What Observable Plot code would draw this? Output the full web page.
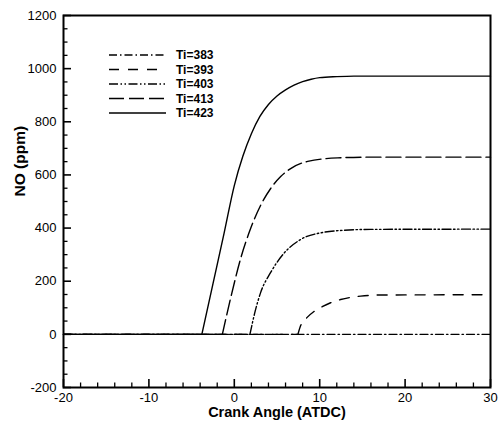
<!DOCTYPE html>
<html>
<head>
<meta charset="utf-8">
<script src="https://cdn.jsdelivr.net/npm/d3@7"></script>
<script src="https://cdn.jsdelivr.net/npm/@observablehq/plot@0.6"></script>
<style>
  html, body { margin: 0; padding: 0; background: #fff; }
  #chart { width: 501px; height: 424px; }
</style>
</head>
<body>
<div id="chart"></div>
<script>
// ---- data ----
const seriesNames = ["Ti=383", "Ti=393", "Ti=403", "Ti=413", "Ti=423"];

const angle383 = [-20, 30];
const no383    = [0, 0];

const angle393 = [-20, 7.45, 7.77, 8.47, 9.33, 10.3, 11.28, 12.45, 13.6, 14.8, 17, 29];
const no393    = [0, 0, 33, 62, 86, 104, 119, 131, 139, 144, 148, 149];

const angle403 = [-20, 1.83, 2.38, 3.09, 4.26, 5.81, 7.77, 10.46, 12.45, 15.96, 30];
const no403    = [0, 0, 79, 158, 233, 305, 357, 384, 391, 395, 396];

const angle413 = [-20, -1.4, -0.41, 0.75, 1.92, 3.09, 4.26, 5.43, 6.6, 8.59, 12.1, 15.96, 30];
const no413    = [0, 0, 139, 286, 399, 486, 549, 594, 624, 651, 664, 667, 667];

const angle423 = [-20, -3.8, -2.5, -1.2, 0, 1, 2, 3, 4, 5, 6, 7, 8, 9, 10, 12, 14, 30];
const no423    = [0, 0, 190, 380, 560, 670, 755, 820, 865, 897, 920, 938, 951, 960, 966, 970, 972, 972];

const xMajorTicks = [-20, -10, 0, 10, 20, 30];
const yMajorTicks = [-200, 0, 200, 400, 600, 800, 1000, 1200];
const xMinorTicks = d3.range(-20, 30.001, 2).filter(v => !xMajorTicks.includes(v));
const yMinorTicks = d3.range(-200, 1200.001, 50).filter(v => !yMajorTicks.includes(v));

// ---- styles ----
const dashes = {
  "Ti=383": "8,3,1.5,3",
  "Ti=393": "10,9",
  "Ti=403": "9,2.5,1.5,2.5,1.5,2.5",
  "Ti=413": "15,5",
  "Ti=423": null
};

const raw = {
  "Ti=383": [angle383, no383],
  "Ti=393": [angle393, no393],
  "Ti=403": [angle403, no403],
  "Ti=413": [angle413, no413],
  "Ti=423": [angle423, no423]
};

// split each series into a flat baseline part and the rising part (sharp corner at onset)
const rows = [];
for (const name of seriesNames) {
  const [xs, ys] = raw[name];
  const onset = ys.findIndex((v, i) => i > 0 && v > 0) - 1;
  xs.forEach((x, i) => {
    if (onset < 0) { rows.push({name, seg: name + "-b", angle: x, no: ys[i]}); return; }
    if (i <= onset) rows.push({name, seg: name + "-b", angle: x, no: ys[i]});
    if (i >= onset) rows.push({name, seg: name + "-r", angle: x, no: ys[i]});
  });
}

const W = 501, H = 424;
const mL = 63, mR = 11, mT = 15, mB = 37;
const plotW = W - mL - mR, plotH = H - mT - mB;
const FONT = "Liberation Sans, Arial, Helvetica, sans-serif";

const lineMarks = seriesNames.map(name =>
  Plot.line(rows.filter(d => d.name === name), {
    x: "angle", y: "no", z: "seg",
    curve: "monotone-x",
    stroke: "black", strokeWidth: 1.4,
    strokeDasharray: dashes[name]
  })
);

const svg = Plot.plot({
  width: W, height: H,
  marginLeft: mL, marginRight: mR, marginTop: mT, marginBottom: mB,
  style: {fontFamily: FONT, fontSize: "13px", color: "black", background: "white"},
  x: {domain: [-20, 30]},
  y: {domain: [-200, 1200]},
  marks: [
    ...lineMarks,
    Plot.axisX({ticks: xMajorTicks, tickSize: 0, tickPadding: 5, label: null, fontSize: 13, tickFormat: d => String(d)}),
    Plot.axisY({ticks: yMajorTicks, tickSize: 0, tickPadding: 7, label: null, fontSize: 13, tickFormat: d => String(d)}),
    Plot.ruleX(xMajorTicks, {x: d => d, insetTop: plotH - 8, stroke: "black", strokeWidth: 1.6}),
    Plot.ruleX(xMinorTicks, {x: d => d, insetTop: plotH - 4.5, stroke: "black", strokeWidth: 1.3}),
    Plot.ruleY(yMajorTicks, {y: d => d, insetRight: plotW - 8, stroke: "black", strokeWidth: 1.6}),
    Plot.ruleY(yMinorTicks, {y: d => d, insetRight: plotW - 4.5, stroke: "black", strokeWidth: 1.3}),
    Plot.frame({stroke: "black", strokeWidth: 2}),
    Plot.text(["Crank Angle (ATDC)"], {frameAnchor: "bottom", dy: 25, lineAnchor: "middle", fontWeight: "bold", fontSize: 14.5}),
    Plot.text(["NO (ppm)"], {frameAnchor: "left", dx: -43.5, dy: -5, rotate: -90, lineAnchor: "middle", fontWeight: "bold", fontSize: 15.5})
  ]
});

// legend inside the plot area
const lg = d3.select(svg).append("g").attr("class", "legend").attr("text-anchor", "start");
seriesNames.forEach((name, i) => {
  const y = 55 + i * 14.5;
  lg.append("line")
    .attr("x1", 109).attr("x2", 166).attr("y1", y).attr("y2", y)
    .attr("stroke", "black").attr("stroke-width", 1.4)
    .attr("stroke-dasharray", dashes[name]);
  lg.append("text")
    .attr("x", 176).attr("y", y).attr("dy", "0.35em")
    .attr("text-anchor", "start")
    .attr("font-family", FONT).attr("font-size", 12).attr("font-weight", "bold")
    .attr("fill", "black")
    .text(name);
});

document.getElementById("chart").appendChild(svg);
</script>
</body>
</html>
